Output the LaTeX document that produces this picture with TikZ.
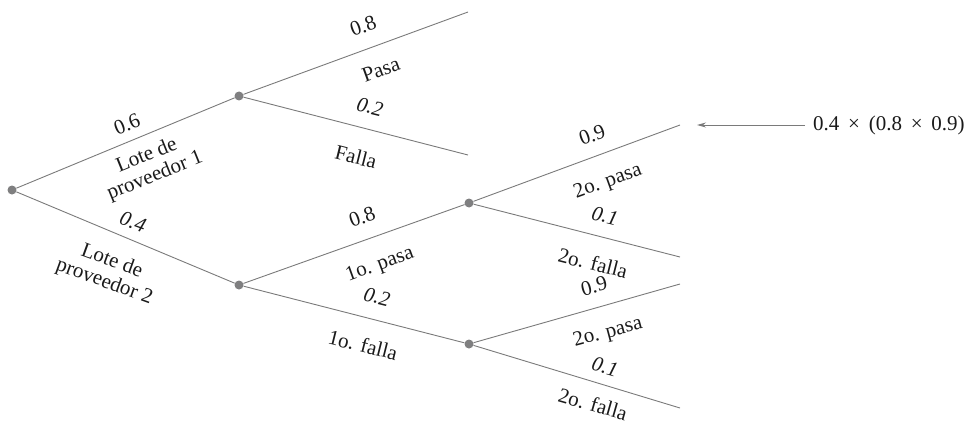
\documentclass[tikz,border=0pt]{standalone}
\usepackage{fontspec}
\setmainfont{Liberation Serif}
\usetikzlibrary{arrows.meta}
\definecolor{linegray}{HTML}{7A7A7A}
\definecolor{dotgray}{HTML}{7F7F80}
\definecolor{txt}{HTML}{1A1A1A}
\begin{document}
\begin{tikzpicture}[x=1pt,y=-1pt,
  dot/.style={circle,fill=dotgray,inner sep=0pt,minimum size=9pt},
  branch/.style={draw=linegray,line width=0.9pt},
  lbl/.style={font=\fontsize{21}{22}\selectfont,text=txt,inner sep=0pt,align=center},
]
\useasboundingbox (0,0) rectangle (965,425);
% nodes
\node[dot] (r) at (12,190) {};
\node[dot] (a) at (239,96) {};
\node[dot] (b) at (239,285) {};
\node[dot] (c) at (469,203) {};
\node[dot] (d) at (469,344) {};
\coordinate (a1) at (468,12);
\coordinate (a2) at (468,155);
\coordinate (c1) at (680,125);
\coordinate (c2) at (680,257);
\coordinate (d1) at (680,284);
\coordinate (d2) at (680,408);
% branches
\draw[branch] (r) -- (a);
\draw[branch] (r) -- (b);
\draw[branch] (a) -- (a1);
\draw[branch] (a) -- (a2);
\draw[branch] (b) -- (c);
\draw[branch] (b) -- (d);
\draw[branch] (c) -- (c1);
\draw[branch] (c) -- (c2);
\draw[branch] (d) -- (d1);
\draw[branch] (d) -- (d2);
% labels first level
\node[lbl,rotate=22] (l1) at (127,124) {0.6};
\node[lbl,rotate=22] (l2) at (151,166) {Lote de\\proveedor 1};
\node[lbl,rotate=-20] (l3) at (133,222) {\itshape 0.4};
\node[lbl,rotate=-20] (l4) at (108,272) {Lote de\\proveedor 2};
% second level
\node[lbl,rotate=20] (l5) at (363,26) {0.8};
\node[lbl,rotate=20] (l6) at (381,70) {Pasa};
\node[lbl,rotate=-14] (l7) at (370,107) {\itshape 0.2};
\node[lbl,rotate=-14] (l8) at (356,157) {Falla};
\node[lbl,rotate=20] (l9) at (362,217) {0.8};
\node[lbl,rotate=20] (l10) at (380,265) {1o. pasa};
\node[lbl,rotate=-14] (l11) at (377,297) {\itshape 0.2};
\node[lbl,rotate=-14] (l12) at (363,345) {1o. falla};
% third level
\node[lbl,rotate=20] (l13) at (592,135) {0.9};
\node[lbl,rotate=20] (l14) at (608,182) {2o. pasa};
\node[lbl,rotate=-14] (l15) at (605,216) {\itshape 0.1};
\node[lbl,rotate=-14] (l16) at (593,263) {2o. falla};
\node[lbl,rotate=15] (l17) at (594,286) {0.9};
\node[lbl,rotate=15] (l18) at (608,333) {2o. pasa};
\node[lbl,rotate=-16] (l19) at (605,367) {\itshape 0.1};
\node[lbl,rotate=-16] (l20) at (593,404) {2o. falla};
% result
\node[lbl,anchor=west] (f) at (813,125) {0.4 \,×\, (0.8 \,×\, 0.9)};
\coordinate (ft) at (697,125);
\draw[branch,-{Stealth[length=9pt,width=5pt]}] ([xshift=-8pt]f.west) -- (ft);
\end{tikzpicture}
\end{document}
